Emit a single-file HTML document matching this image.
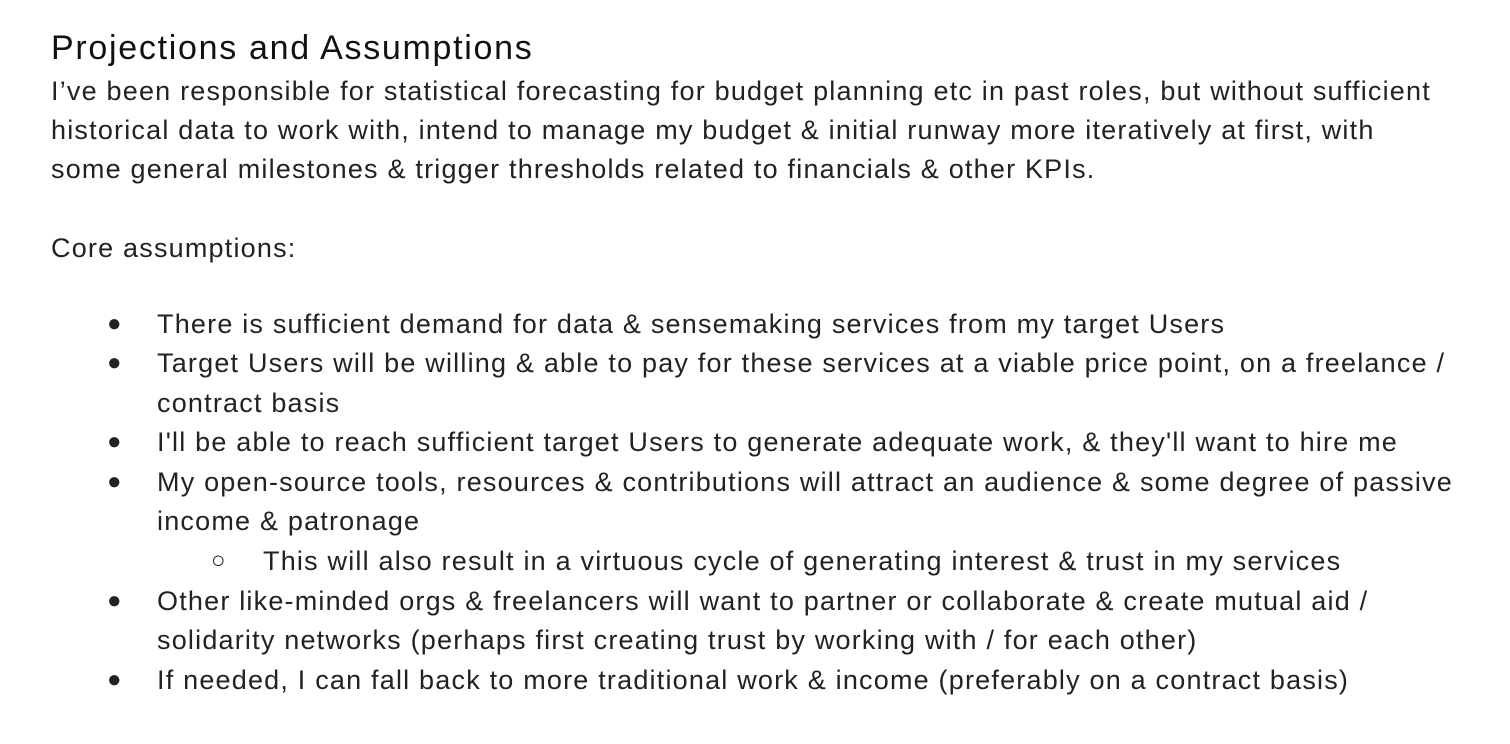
<!DOCTYPE html>
<html>
<head>
<meta charset="utf-8">
<style>
  html,body{margin:0;padding:0;background:#fff;}
  body{width:1510px;height:744px;position:relative;overflow:hidden;
       font-family:"Liberation Sans",sans-serif;color:#222;}
  .l{position:absolute;white-space:nowrap;font-size:27px;letter-spacing:1.2px;line-height:30px;}
  h1{position:absolute;left:51px;top:28px;margin:0;font-weight:normal;font-size:34px;letter-spacing:1.7px;line-height:40px;color:#111;white-space:nowrap;}
  .b{position:absolute;font-size:24px;line-height:30px;}
</style>
</head>
<body>
<h1>Projections and Assumptions</h1>
<div>
<div class="l" style="left:51px;top:76px">I’ve been responsible for statistical forecasting for budget planning etc in past roles, but without sufficient</div>
<div class="l" style="left:51px;top:115px">historical data to work with, intend to manage my budget &amp; initial runway more iteratively at first, with</div>
<div class="l" style="left:51px;top:154px">some general milestones &amp; trigger thresholds related to financials &amp; other KPIs.</div>
</div>
<div class="l" style="left:51px;top:233px">Core assumptions:</div>
<div>
<div class="b" style="left:107px;top:309px">●</div>
<div class="l" style="left:157px;top:309px">There is sufficient demand for data &amp; sensemaking services from my target Users</div>
<div class="b" style="left:107px;top:348px">●</div>
<div class="l" style="left:157px;top:348px">Target Users will be willing &amp; able to pay for these services at a viable price point, on a freelance /</div>
<div class="l" style="left:157px;top:388px">contract basis</div>
<div class="b" style="left:107px;top:427px">●</div>
<div class="l" style="left:157px;top:427px">I'll be able to reach sufficient target Users to generate adequate work, &amp; they'll want to hire me</div>
<div class="b" style="left:107px;top:467px">●</div>
<div class="l" style="left:157px;top:467px">My open-source tools, resources &amp; contributions will attract an audience &amp; some degree of passive</div>
<div class="l" style="left:157px;top:506px">income &amp; patronage</div>
<div class="b" style="left:211px;top:546px">○</div>
<div class="l" style="left:263px;top:546px">This will also result in a virtuous cycle of generating interest &amp; trust in my services</div>
<div class="b" style="left:107px;top:586px">●</div>
<div class="l" style="left:157px;top:586px">Other like-minded orgs &amp; freelancers will want to partner or collaborate &amp; create mutual aid /</div>
<div class="l" style="left:157px;top:625px">solidarity networks (perhaps first creating trust by working with / for each other)</div>
<div class="b" style="left:107px;top:665px">●</div>
<div class="l" style="left:157px;top:665px">If needed, I can fall back to more traditional work &amp; income (preferably on a contract basis)</div>
</div>
</body>
</html>
